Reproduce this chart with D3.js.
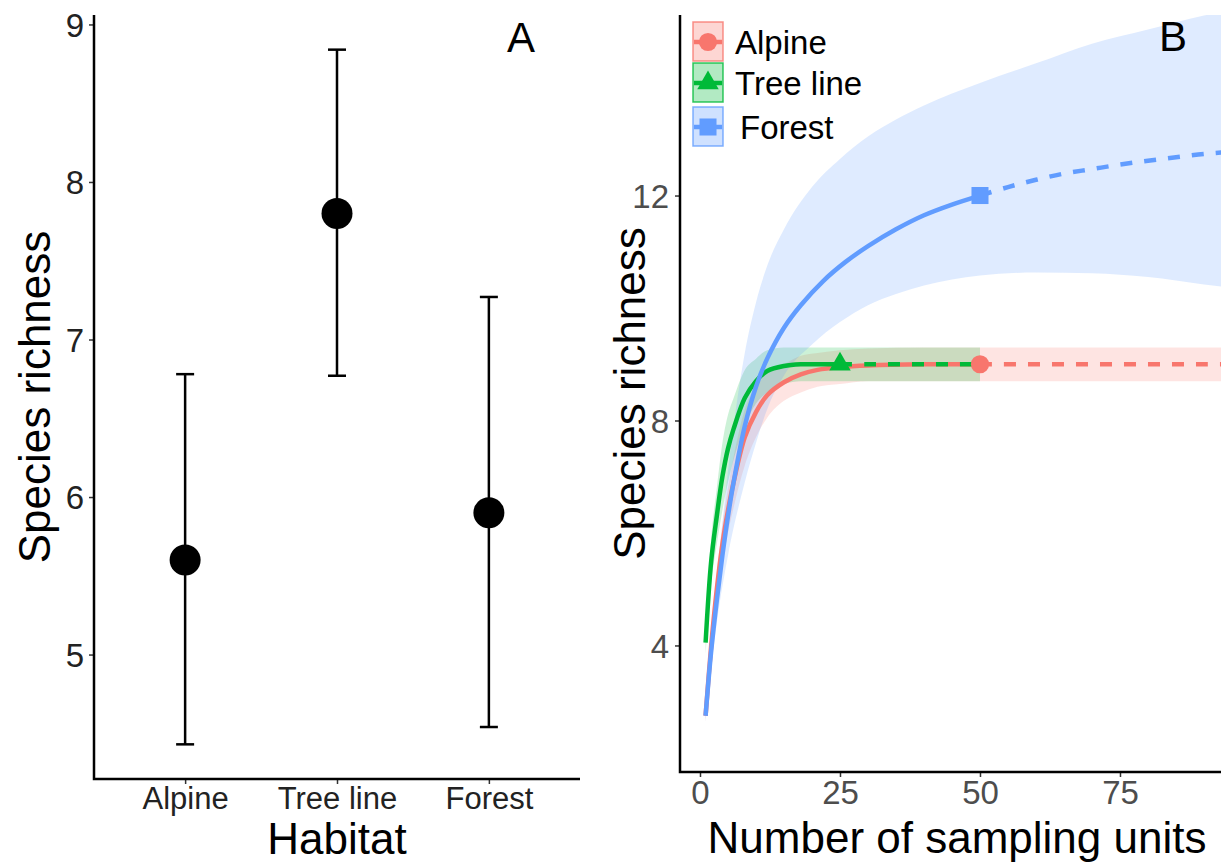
<!DOCTYPE html>
<html>
<head>
<meta charset="utf-8">
<script src="https://cdn.jsdelivr.net/npm/d3@7"></script>
<style>
  html, body { margin: 0; padding: 0; background: #fff; }
  svg { display: block; font-family: "Liberation Sans", Arial, sans-serif; }
</style>
</head>
<body>
<svg id="chart" width="1221" height="865"></svg>
<script>
// ---------------- Panel A data ----------------
const habitats = ["Alpine", "Tree line", "Forest"];
const meanRichness = [5.6, 7.8, 5.9];
const lowerCI = [4.43, 6.77, 4.54];
const upperCI = [6.78, 8.84, 7.27];
const yTicksA = [5, 6, 7, 8, 9];

// ---------------- Panel B data ----------------
const seriesNames = ["Alpine", "Tree line", "Forest"];
const seriesColors = ["#F8766D", "#00BA38", "#619CFF"];
const xTicksB = [0, 25, 50, 75];
const yTicksB = [4, 8, 12];

// Alpine
const alpineObsX = [1, 2, 3, 4, 5, 6, 8, 10, 12, 15, 18, 21, 25, 30, 40, 50];
const alpineObsY = [2.75, 4.0, 5.0, 5.8, 6.4, 6.9, 7.7, 8.15, 8.45, 8.68, 8.82, 8.9, 8.95, 8.98, 9.0, 9.0];
const alpineExtX = [50, 60, 70, 80, 90, 100];
const alpineExtY = [9.0, 9.0, 9.0, 9.0, 9.0, 9.0];
const alpineBandX = [1, 2, 3, 4, 5, 6, 8, 10, 12, 15, 18, 21, 25, 30, 40, 50, 75, 100];
const alpineBandLo = [2.65, 3.75, 4.7, 5.45, 6.0, 6.45, 7.2, 7.7, 8.05, 8.35, 8.5, 8.6, 8.65, 8.7, 8.7, 8.7, 8.7, 8.7];
const alpineBandHi = [2.85, 4.25, 5.3, 6.15, 6.8, 7.35, 8.2, 8.6, 8.85, 9.0, 9.15, 9.2, 9.25, 9.28, 9.3, 9.3, 9.3, 9.3];

// Tree line
const treeObsX = [1, 2, 3, 4, 5, 6, 8, 10, 12, 15, 18, 21, 25];
const treeObsY = [4.05, 5.5, 6.3, 7.0, 7.5, 7.85, 8.4, 8.7, 8.88, 8.97, 9.0, 9.0, 9.0];
const treeExtX = [25, 30, 35, 40, 45, 50];
const treeExtY = [9.0, 9.0, 9.0, 9.0, 9.0, 9.0];
const treeBandX = [1, 2, 3, 4, 5, 6, 8, 10, 12, 15, 18, 25, 50];
const treeBandLo = [3.85, 5.1, 5.8, 6.4, 6.9, 7.3, 7.9, 8.3, 8.5, 8.65, 8.7, 8.7, 8.7];
const treeBandHi = [4.25, 5.9, 6.8, 7.6, 8.1, 8.4, 8.9, 9.1, 9.25, 9.3, 9.3, 9.3, 9.3];

// Forest
const forestObsX = [1, 2, 3, 4, 5, 6, 8, 10, 12, 15, 18, 22, 26, 30, 35, 40, 45, 50];
const forestObsY = [2.75, 3.9, 4.8, 5.6, 6.3, 6.9, 7.9, 8.6, 9.1, 9.65, 10.05, 10.48, 10.82, 11.1, 11.4, 11.65, 11.84, 12.0];
const forestExtX = [50, 55, 60, 65, 70, 75, 80, 85, 90, 95, 100];
const forestExtY = [12.0, 12.15, 12.28, 12.39, 12.47, 12.55, 12.62, 12.68, 12.74, 12.78, 12.82];
const forestBandX = [1, 2, 3, 5, 8, 10, 12, 15, 20, 25, 30, 35, 40, 50, 60, 70, 80, 90, 100];
const forestBandLo = [2.65, 3.6, 4.4, 5.6, 6.9, 7.6, 8.2, 8.8, 9.35, 9.75, 10.05, 10.25, 10.4, 10.58, 10.63, 10.62, 10.55, 10.42, 10.3];
const forestBandHi = [2.85, 4.2, 5.2, 7.1, 9.2, 10.1, 10.75, 11.4, 12.15, 12.65, 13.05, 13.35, 13.6, 14.0, 14.35, 14.7, 14.95, 15.2, 15.4];

// reference points (observed sample size, richness)
const refX = [50, 25, 50];
const refY = [9.0, 9.0, 12.0];

// ---------------- build ----------------
const svg = d3.select("#chart");
const FONT = "'Liberation Sans', Arial, sans-serif";

// ===== Panel A =====
const A = { left: 94, right: 580, top: 15, bottom: 779 };
const xA = d3.scalePoint().domain(habitats).range([A.left, A.right]).padding(0.6);
const yA = d3.scaleLinear().domain([4.21, 9.06]).range([A.bottom, A.top]);

const gA = svg.append("g");
const axYA = gA.append("g").attr("transform", `translate(${A.left},0)`)
  .call(d3.axisLeft(yA).tickValues(yTicksA).tickSize(5).tickPadding(5).tickFormat(d3.format("d")));
axYA.select(".domain").remove();
axYA.selectAll(".tick line").attr("stroke", "#333").attr("stroke-width", 1.5);
axYA.selectAll(".tick text").attr("font-size", 33).attr("fill", "#222").attr("font-family", FONT).attr("dy", "0.36em");
const axXA = gA.append("g").attr("transform", `translate(0,${A.bottom})`)
  .call(d3.axisBottom(xA).tickSize(5).tickPadding(3));
axXA.select(".domain").remove();
axXA.selectAll(".tick line").attr("stroke", "#333").attr("stroke-width", 1.5);
axXA.selectAll(".tick text").attr("font-size", 31).attr("fill", "#222").attr("font-family", FONT);
gA.append("path").attr("d", `M${A.left},${A.top}V${A.bottom}H${A.right}`)
  .attr("fill", "none").attr("stroke", "#000").attr("stroke-width", 2.5);

const idx = d3.range(habitats.length);
gA.selectAll(".eb").data(idx).join("line")
  .attr("x1", i => xA(habitats[i])).attr("x2", i => xA(habitats[i]))
  .attr("y1", i => yA(lowerCI[i])).attr("y2", i => yA(upperCI[i]))
  .attr("stroke", "#000").attr("stroke-width", 2.5);
const capW = 9;
gA.selectAll(".capL").data(idx).join("line")
  .attr("x1", i => xA(habitats[i]) - capW).attr("x2", i => xA(habitats[i]) + capW)
  .attr("y1", i => yA(lowerCI[i])).attr("y2", i => yA(lowerCI[i]))
  .attr("stroke", "#000").attr("stroke-width", 2.5);
gA.selectAll(".capU").data(idx).join("line")
  .attr("x1", i => xA(habitats[i]) - capW).attr("x2", i => xA(habitats[i]) + capW)
  .attr("y1", i => yA(upperCI[i])).attr("y2", i => yA(upperCI[i]))
  .attr("stroke", "#000").attr("stroke-width", 2.5);
gA.selectAll(".pt").data(idx).join("circle")
  .attr("cx", i => xA(habitats[i])).attr("cy", i => yA(meanRichness[i]))
  .attr("r", 15.5).attr("fill", "#000");

gA.append("text").attr("x", (A.left + A.right) / 2).attr("y", 854)
  .attr("text-anchor", "middle").attr("font-size", 44).attr("fill", "#000").text("Habitat");
gA.append("text").attr("transform", `translate(50,${(A.top + A.bottom) / 2}) rotate(-90)`)
  .attr("text-anchor", "middle").attr("font-size", 44).attr("fill", "#000").text("Species richness");
gA.append("text").attr("x", 521).attr("y", 52).attr("text-anchor", "middle")
  .attr("font-size", 42).attr("fill", "#000").text("A");

// ===== Panel B =====
const B = { left: 680, right: 1290, top: 15, bottom: 772 };
const xB = d3.scaleLinear().domain([-3.57, 105.36]).range([B.left, B.right]);
const yB = d3.scaleLinear().domain([1.75, 15.21]).range([B.bottom, B.top]);

const gB = svg.append("g");
svg.append("defs").append("clipPath").attr("id", "clipB")
  .append("rect").attr("x", B.left).attr("y", B.top).attr("width", B.right - B.left).attr("height", B.bottom - B.top);
const plotB = gB.append("g").attr("clip-path", "url(#clipB)");

const series = [
  { obsX: alpineObsX, obsY: alpineObsY, extX: alpineExtX, extY: alpineExtY, bX: alpineBandX, lo: alpineBandLo, hi: alpineBandHi },
  { obsX: treeObsX, obsY: treeObsY, extX: treeExtX, extY: treeExtY, bX: treeBandX, lo: treeBandLo, hi: treeBandHi },
  { obsX: forestObsX, obsY: forestObsY, extX: forestExtX, extY: forestExtY, bX: forestBandX, lo: forestBandLo, hi: forestBandHi }
];

const area = d3.area().x(d => xB(d[0])).y0(d => yB(d[1])).y1(d => yB(d[2])).curve(d3.curveMonotoneX);
const line = d3.line().x(d => xB(d[0])).y(d => yB(d[1])).curve(d3.curveCatmullRom.alpha(0.5));

series.forEach((s, i) => {
  plotB.append("path")
    .attr("d", area(s.bX.map((x, k) => [x, s.lo[k], s.hi[k]])))
    .attr("fill", seriesColors[i]).attr("fill-opacity", 0.2).attr("stroke", "none");
});
series.forEach((s, i) => {
  plotB.append("path")
    .attr("d", line(s.obsX.map((x, k) => [x, s.obsY[k]])))
    .attr("fill", "none").attr("stroke", seriesColors[i]).attr("stroke-width", 4.5);
  plotB.append("path")
    .attr("d", line(s.extX.map((x, k) => [x, s.extY[k]])))
    .attr("fill", "none").attr("stroke", seriesColors[i]).attr("stroke-width", 4.5)
    .attr("stroke-dasharray", "12 12");
});

const symCircle = d3.symbol().type(d3.symbolCircle).size(260);
const symTri = d3.symbol().type(d3.symbolTriangle).size(200);
const symSq = d3.symbol().type(d3.symbolSquare).size(290);
const syms = [symCircle, symTri, symSq];
idx.forEach(i => {
  plotB.append("path").attr("d", syms[i]())
    .attr("transform", `translate(${xB(refX[i])},${yB(refY[i])})`)
    .attr("fill", seriesColors[i]);
});

const axYB = gB.append("g").attr("transform", `translate(${B.left},0)`)
  .call(d3.axisLeft(yB).tickValues(yTicksB).tickSize(5).tickPadding(6));
axYB.select(".domain").remove();
axYB.selectAll(".tick line").attr("stroke", "#333").attr("stroke-width", 1.5);
axYB.selectAll(".tick text").attr("font-size", 33).attr("fill", "#4d4d4d").attr("font-family", FONT).attr("dy", "0.36em");
const axXB = gB.append("g").attr("transform", `translate(0,${B.bottom})`)
  .call(d3.axisBottom(xB).tickValues(xTicksB).tickSize(5).tickPadding(4));
axXB.select(".domain").remove();
axXB.selectAll(".tick line").attr("stroke", "#333").attr("stroke-width", 1.5);
axXB.selectAll(".tick text").attr("font-size", 33).attr("fill", "#4d4d4d").attr("font-family", FONT);
gB.append("path").attr("d", `M${B.left},${B.top}V${B.bottom}H${B.right}`)
  .attr("fill", "none").attr("stroke", "#000").attr("stroke-width", 2.5);

gB.append("text").attr("x", 957).attr("y", 853)
  .attr("text-anchor", "middle").attr("font-size", 44).attr("fill", "#000").text("Number of sampling units");
gB.append("text").attr("transform", `translate(645,${(B.top + B.bottom) / 2}) rotate(-90)`)
  .attr("text-anchor", "middle").attr("font-size", 44).attr("fill", "#000").text("Species richness");
gB.append("text").attr("x", 1173).attr("y", 51).attr("text-anchor", "middle")
  .attr("font-size", 42).attr("fill", "#000").text("B");

// legend
const legY = [22, 63, 107];
const legTextX = [735, 735, 740];
const leg = gB.append("g");
idx.forEach(i => {
  const gy = legY[i];
  const g = leg.append("g");
  g.append("rect").attr("x", 693).attr("y", gy).attr("width", 30).attr("height", 39)
    .attr("fill", seriesColors[i]).attr("fill-opacity", 0.3)
    .attr("stroke", seriesColors[i]).attr("stroke-opacity", 0.8).attr("stroke-width", 1.5);
  g.append("line").attr("x1", 694).attr("x2", 722).attr("y1", gy + 20).attr("y2", gy + 20)
    .attr("stroke", seriesColors[i]).attr("stroke-width", 4.5);
  g.append("path").attr("d", syms[i]()).attr("transform", `translate(708,${gy + 20})`)
    .attr("fill", seriesColors[i]);
  g.append("text").attr("x", legTextX[i]).attr("y", gy + 32)
    .attr("font-size", 33).attr("fill", "#000").text(seriesNames[i]);
});
</script>
</body>
</html>
